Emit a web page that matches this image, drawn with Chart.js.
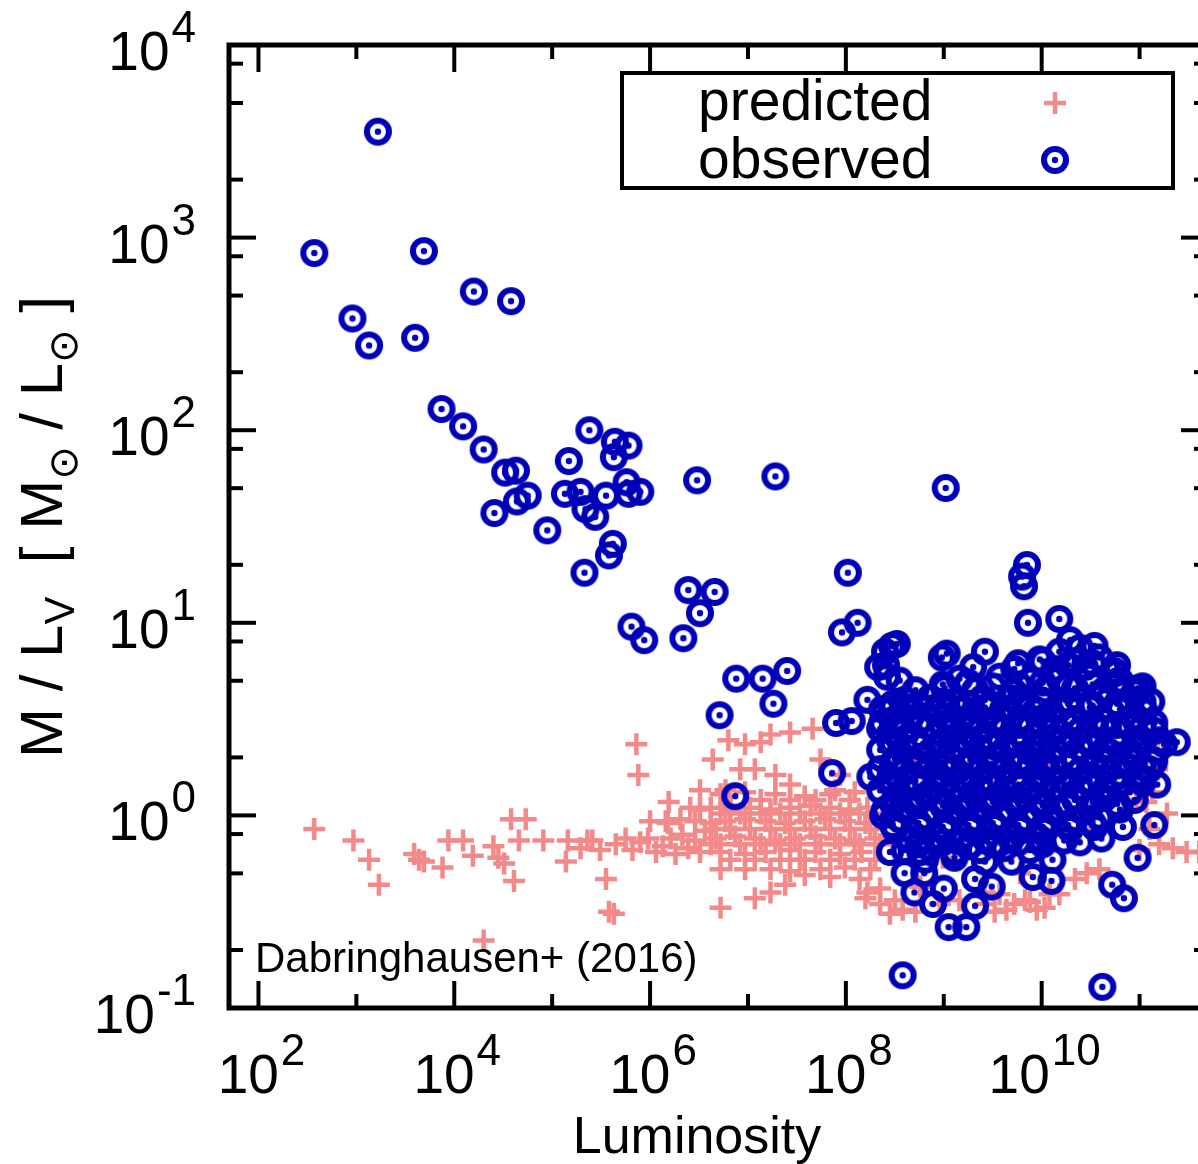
<!DOCTYPE html>
<html><head><meta charset="utf-8">
<script src="https://cdn.jsdelivr.net/npm/chart.js@4/dist/chart.umd.min.js"></script>
<style>
html,body{margin:0;padding:0;background:#fff;overflow:hidden;width:1198px;height:1164px}
canvas{display:block}
</style></head><body>
<canvas id="c" width="1240" height="1164"></canvas>
<script>
// ---- axis ranges & ticks ----
const X_MIN = 50, X_MAX = 5e11, Y_MIN = 0.1, Y_MAX = 1e4;
const xMajorTicks = [1e2, 1e4, 1e6, 1e8, 1e10];
const xTickExps   = ['2', '4', '6', '8', '10'];
const xMinorTicks = [1e3, 1e5, 1e7, 1e9, 1e11];
const yMajorTicks = [0.1, 1, 10, 100, 1000, 10000];
const yTickExps   = ['-1', '0', '1', '2', '3', '4'];
const yMinorTicks = [0.2, 0.5, 0.8, 2, 5, 8, 20, 50, 80, 200, 500, 800, 2000, 5000, 8000];
const seriesLabels = ['predicted', 'observed'];

// ---- data: [log10 Luminosity, log10 M/L] ----
const observedOutliers = [
 [3.22,3.55],[2.57,2.92],[3.69,2.93],[2.96,2.58],[3.13,2.44],[3.60,2.48],[4.20,2.72],[4.58,2.67],
 [3.87,2.11],[4.09,2.02],[4.30,1.90],[4.52,1.78],[4.63,1.79],[4.41,1.57],[4.64,1.63],[4.75,1.66],
 [4.95,1.48],[5.17,1.84],[5.13,1.67],[5.29,1.68],[5.38,2.00],[5.34,1.59],[5.44,1.55],[5.55,1.66],
 [5.64,1.94],[5.63,1.86],[5.78,1.92],[5.76,1.73],[5.78,1.67],[5.90,1.68],[5.62,1.41],[5.58,1.35],
 [5.33,1.26],[6.48,1.74],[7.28,1.76],[9.02,1.70],[5.81,0.98],[5.94,0.91],[6.39,1.17],[6.66,1.16],
 [6.51,1.05],[6.34,0.92],[6.71,0.52],[6.88,0.71],[7.15,0.71],[7.40,0.75],[7.26,0.58],[6.87,0.10],
 [8.02,1.26],[8.12,1.00],[7.96,0.95],[7.86,0.22],[7.90,0.48],[8.06,0.49],[8.58,-0.83],[10.62,-0.89],
 [9.05,-0.58],[9.23,-0.58]
];
const observedClusterEdge = [
 [8.47,0.88],[8.40,0.85],[8.52,0.89],[8.41,0.78],[8.98,0.82],[9.03,0.84],[9.30,0.77],[9.42,0.85],
 [9.85,1.30],[9.80,1.24],[9.82,1.19],[9.86,1.00],[10.18,1.02],[10.29,0.91],[10.39,0.87],[10.18,0.85],
 [10.54,0.88],[10.76,0.74],[10.98,0.66],[11.12,0.59],[11.38,0.38],[11.18,0.16],[11.15,-0.05],[10.98,-0.22],
 [10.72,-0.36],[10.84,-0.43],[8.22,0.60],[8.33,0.77],[8.42,0.72],[8.55,0.70],[8.47,0.55],[8.37,0.48],
 [8.25,0.20],[8.38,0.00],[8.45,-0.19],[8.76,-0.19],[8.89,-0.46],[9.32,-0.47],[9.32,-0.33],[9.49,-0.37],
 [9.69,-0.24],[9.91,-0.32],[10.10,-0.34],[10.11,-0.23],[10.39,-0.14],[10.61,-0.12],[10.83,-0.06],
 [8.80,-0.30],[8.70,-0.40],[9.00,-0.38],[8.60,-0.30]
];
const observedClusterCore = [
 [9.98,0.81],[10.34,0.80],[10.59,0.82],
 [9.16,0.71],[9.57,0.72],[9.88,0.70],[10.18,0.71],[10.49,0.72],[10.80,0.70],
 [8.60,0.60],[8.86,0.61],[9.11,0.59],[9.42,0.60],[9.67,0.61],[9.98,0.60],[10.29,0.59],[10.59,0.61],[10.90,0.60],
 [8.50,0.50],[8.76,0.49],[9.01,0.51],[9.27,0.50],[9.52,0.49],[9.78,0.50],[10.03,0.51],[10.34,0.50],[10.64,0.49],[10.95,0.50],[11.15,0.48],
 [8.45,0.39],[8.71,0.40],[8.96,0.38],[9.22,0.39],[9.47,0.40],[9.72,0.39],[9.98,0.38],[10.23,0.40],[10.49,0.39],[10.74,0.38],[11.00,0.40],[11.20,0.39],
 [8.50,0.29],[8.76,0.30],[9.01,0.28],[9.27,0.29],[9.52,0.30],[9.78,0.29],[10.03,0.28],[10.34,0.29],[10.64,0.30],[10.95,0.29],[11.15,0.28],
 [8.45,0.19],[8.71,0.18],[8.96,0.20],[9.22,0.19],[9.47,0.18],[9.72,0.19],[9.98,0.20],[10.23,0.19],[10.49,0.18],[10.74,0.19],[11.00,0.20],
 [8.50,0.08],[8.76,0.09],[9.01,0.07],[9.27,0.08],[9.52,0.09],[9.78,0.08],[10.03,0.07],[10.34,0.08],[10.64,0.09],[10.95,0.08],
 [8.55,-0.02],[8.81,-0.01],[9.06,-0.03],[9.32,-0.02],[9.57,-0.01],[9.83,-0.02],[10.08,-0.03],[10.34,-0.02],[10.59,-0.01],
 [8.65,-0.12],[8.91,-0.11],[9.16,-0.13],[9.42,-0.12],[9.67,-0.11],[9.98,-0.12],[10.23,-0.13],
 [8.81,-0.23],[9.11,-0.22],[9.42,-0.24]
];
const observedClusterFill = [
 [9.72,0.76],[10.13,0.76],[10.44,0.77],[10.74,0.75],
 [8.71,0.65],[9.01,0.66],[9.32,0.65],[9.72,0.64],[10.03,0.65],[10.34,0.66],[10.64,0.65],[10.95,0.64],
 [8.37,0.55],[8.65,0.56],[8.91,0.54],[9.16,0.55],[9.42,0.56],[9.67,0.55],[9.93,0.54],[10.18,0.55],[10.49,0.56],[10.80,0.55],[11.05,0.54],
 [8.35,0.45],[8.60,0.44],[8.86,0.46],[9.11,0.45],[9.37,0.44],[9.62,0.45],[9.88,0.46],[10.13,0.45],[10.39,0.44],[10.64,0.45],[10.90,0.46],[11.15,0.44],
 [8.35,0.34],[8.60,0.35],[8.86,0.33],[9.11,0.34],[9.37,0.35],[9.62,0.34],[9.88,0.33],[10.13,0.34],[10.39,0.35],[10.64,0.34],[10.90,0.33],[11.18,0.34],
 [8.35,0.24],[8.60,0.23],[8.86,0.25],[9.11,0.24],[9.37,0.23],[9.62,0.24],[9.88,0.25],[10.13,0.24],[10.39,0.23],[10.64,0.24],[10.90,0.25],[11.10,0.24],
 [8.35,0.13],[8.60,0.14],[8.86,0.12],[9.11,0.13],[9.37,0.14],[9.62,0.13],[9.88,0.12],[10.13,0.13],[10.39,0.14],[10.64,0.13],[10.90,0.12],
 [8.40,0.03],[8.65,0.04],[8.91,0.02],[9.16,0.03],[9.42,0.04],[9.67,0.03],[9.93,0.02],[10.18,0.03],[10.49,0.04],[10.80,0.03],
 [8.50,-0.07],[8.76,-0.06],[9.01,-0.08],[9.27,-0.07],[9.52,-0.06],[9.78,-0.07],[10.03,-0.08],[10.29,-0.07],[10.54,-0.06],
 [8.60,-0.18],[8.86,-0.17],[9.11,-0.19],[9.37,-0.18],[9.62,-0.17],[9.88,-0.18]
];
const observedClusterDense = [
 [9.76,0.79],[10.01,0.80],[10.27,0.78],[10.52,0.79],[10.77,0.78],
 [8.99,0.68],[9.25,0.69],[9.50,0.67],[9.76,0.68],[10.01,0.69],[10.27,0.67],[10.52,0.68],[10.77,0.69],[11.03,0.67],
 [8.48,0.58],[8.74,0.57],[8.99,0.59],[9.25,0.58],[9.50,0.57],[9.76,0.58],[10.01,0.59],[10.27,0.58],[10.52,0.57],[10.77,0.58],[11.03,0.59],
 [8.48,0.47],[8.74,0.48],[8.99,0.46],[9.25,0.47],[9.50,0.48],[9.76,0.47],[10.01,0.46],[10.27,0.47],[10.52,0.48],[10.77,0.47],[11.03,0.46],
 [8.48,0.37],[8.74,0.36],[8.99,0.38],[9.25,0.37],[9.50,0.36],[9.76,0.37],[10.01,0.38],[10.27,0.37],[10.52,0.36],[10.77,0.37],[11.03,0.38],[11.25,0.37],
 [8.48,0.26],[8.74,0.27],[8.99,0.25],[9.25,0.26],[9.50,0.27],[9.76,0.26],[10.01,0.25],[10.27,0.26],[10.52,0.27],[10.77,0.26],[11.03,0.25],
 [8.48,0.16],[8.74,0.15],[8.99,0.17],[9.25,0.16],[9.50,0.15],[9.76,0.16],[10.01,0.17],[10.27,0.16],[10.52,0.15],[10.77,0.16],[11.03,0.17],
 [8.48,0.06],[8.74,0.07],[8.99,0.05],[9.25,0.06],[9.50,0.07],[9.76,0.06],[10.01,0.05],[10.27,0.06],[10.52,0.07],[10.77,0.06],
 [8.48,-0.05],[8.74,-0.04],[8.99,-0.06],[9.25,-0.05],[9.50,-0.04],[9.76,-0.05],[10.01,-0.06],[10.27,-0.05],[10.52,-0.04],
 [8.74,-0.15],[8.99,-0.14],[9.25,-0.16],[9.50,-0.15],[9.76,-0.14],[10.01,-0.15]
];
const predictedSparse = [
 [2.57,-0.07],[2.97,-0.13],[3.13,-0.23],[3.23,-0.36],[3.59,-0.20],[3.64,-0.23],[3.69,-0.24],[3.88,-0.27],
 [3.94,-0.13],[4.09,-0.13],[4.19,-0.21],[4.40,-0.16],[4.45,-0.22],[4.51,-0.25],[4.58,-0.02],[4.73,-0.02],
 [4.66,-0.13],[4.61,-0.34],[4.30,-0.65],[4.91,-0.13],[5.14,-0.24],[5.16,-0.13],[5.36,-0.13],[5.55,-0.33],
 [5.58,-0.50],[5.63,-0.51],[5.86,0.37],[5.88,0.21],[6.72,-0.48]
];
const predictedBand = [
 [5.29,-0.17],[5.41,-0.13],[5.49,-0.18],[5.65,-0.15],[5.75,-0.12],[5.82,-0.18],[5.90,-0.14],[5.98,-0.12],
 [6.06,-0.19],[6.13,-0.16],[6.21,-0.12],[6.26,-0.20],[6.33,-0.10],[6.39,-0.17],[6.46,-0.13],[6.51,-0.19],
 [6.56,-0.08],[6.62,-0.15],
 [6.19,0.07],[6.18,-0.04],[6.51,0.13],[6.64,0.29],[6.80,0.39],[6.97,0.37],[7.13,0.38],[7.23,0.42],
 [7.43,0.43],[7.66,0.45],[6.77,0.13],[6.92,0.24],[7.07,0.24],[7.28,0.21],[7.43,0.16],[7.74,0.29],
 [7.94,0.21],[8.04,0.08],[7.69,0.08],[7.89,0.13],[7.13,0.08],[7.43,0.08],[6.82,0.03],[6.51,0.03],
 [7.07,-0.43],[7.23,-0.40],[7.38,-0.36],[7.58,-0.31],[7.84,-0.32],[8.14,-0.33],[8.20,-0.43],[8.35,-0.38],
 [6.97,-0.28],[7.23,-0.28],[7.53,-0.23],
 [6.72,0.01],[6.92,0.01],[7.13,0.01],[7.33,0.01],[7.53,0.01],[7.74,0.01],[7.94,0.01],[8.14,0.01],[8.30,0.01],
 [6.67,-0.07],[6.82,-0.07],[7.02,-0.07],[7.23,-0.07],[7.43,-0.07],[7.64,-0.07],[7.84,-0.07],[8.04,-0.07],[8.25,-0.07],
 [6.72,-0.15],[6.92,-0.15],[7.13,-0.15],[7.33,-0.15],[7.53,-0.15],[7.74,-0.15],[7.94,-0.15],[8.14,-0.15],[8.35,-0.15],
 [6.82,-0.23],[7.07,-0.23],[7.33,-0.23],[7.58,-0.23],[7.84,-0.23],[8.09,-0.23],[8.30,-0.23]
];
const predictedDense = [
 [6.41,0.04],[6.62,0.04],[6.82,0.05],[7.02,0.04],[7.23,0.03],[7.43,0.04],[7.64,0.05],[7.84,0.04],[8.04,0.03],[8.22,0.04],
 [6.00,-0.03],[6.16,-0.03],[6.31,-0.02],[6.46,-0.03],[6.62,-0.04],[6.77,-0.03],[6.97,-0.02],[7.18,-0.03],[7.38,-0.04],[7.58,-0.03],[7.79,-0.02],[7.99,-0.03],[8.20,-0.04],
 [6.67,-0.12],[6.87,-0.11],[7.07,-0.12],[7.28,-0.13],[7.48,-0.12],[7.69,-0.11],[7.89,-0.12],[8.09,-0.13],[8.30,-0.12],
 [6.72,-0.19],[6.97,-0.20],[7.18,-0.19],[7.43,-0.18],[7.69,-0.19],[7.94,-0.20],[8.16,-0.19],
 [6.72,0.11],[6.97,0.12],[7.28,0.11],[7.58,0.10],[7.84,0.11],[8.09,0.12],
 [6.72,-0.28],[7.43,-0.29],[7.74,-0.28],[7.99,-0.27],[8.25,-0.28]
];
const predictedNearCluster = [
 [8.22,-0.40],[8.58,-0.49],[8.76,-0.37],[9.64,-0.49],[9.95,-0.49],[9.78,-0.30],[10.46,-0.30],[10.97,0.08],
 [11.07,0.07],[11.13,0.12],[11.34,-0.17],[11.48,-0.19],[11.61,-0.19],[11.18,0.24],[11.10,0.37],[9.83,-0.44],
 [10.08,-0.41],[9.57,-0.41],[9.72,-0.46],[8.99,-0.22],[8.45,-0.51],[9.16,-0.44],[9.42,-0.40],
 [9.06,0.08],[9.57,0.19],[10.08,0.29],[10.59,0.08],[10.39,-0.07],[8.76,0.29],
 [8.35,-0.46],[8.50,-0.44],[8.71,-0.50],[8.96,-0.46],[9.42,-0.46],[9.52,-0.50],[9.88,-0.45],[10.03,-0.48],
 [10.18,-0.41],[10.34,-0.33],[10.59,-0.28],[11.00,-0.18],[11.20,-0.15],[11.10,-0.07],[11.28,0.01]
];

// ---- styles ----
const PINK = '#f38a8a';
const BLUE = '#0000b8';
const FONT = '"Liberation Sans", Arial, sans-serif';

function toPoints(...lists){
  const out = [];
  lists.forEach(l => l.forEach(p => out.push({x: Math.pow(10, p[0]), y: Math.pow(10, p[1])})));
  return out;
}

function makeSun(){
  const s = 36, c = document.createElement('canvas');
  c.width = s; c.height = s;
  const g = c.getContext('2d');
  g.strokeStyle = BLUE; g.lineWidth = 6;
  g.beginPath(); g.arc(s/2, s/2, 11, 0, Math.PI*2); g.stroke();
  g.fillStyle = BLUE;
  g.beginPath(); g.arc(s/2, s/2, 3.2, 0, Math.PI*2); g.fill();
  return c;
}
const sunImg = makeSun();

function drawPow(ctx, exp, x, baseline, align){
  ctx.font = '55px ' + FONT;
  const w1 = ctx.measureText('10').width;
  ctx.font = '44px ' + FONT;
  const w2 = ctx.measureText(exp).width;
  const total = w1 + w2 + 2;
  let x0 = align === 'right' ? x - total : x - total/2;
  ctx.textAlign = 'left'; ctx.textBaseline = 'alphabetic';
  ctx.font = '55px ' + FONT;
  ctx.fillText('10', x0, baseline);
  ctx.font = '44px ' + FONT;
  ctx.fillText(exp, x0 + w1 + 2, baseline - 28);
}

const decor = {
  id: 'decor',
  afterDatasetsDraw(chart){
    const {ctx, chartArea: a, scales} = chart;
    const xs = scales.x, ys = scales.y;
    ctx.save();
    ctx.strokeStyle = '#000'; ctx.fillStyle = '#000';
    ctx.lineWidth = 4; ctx.lineCap = 'butt';
    const seg = (x1,y1,x2,y2) => { ctx.beginPath(); ctx.moveTo(x1,y1); ctx.lineTo(x2,y2); ctx.stroke(); };
    xMajorTicks.forEach(v => { const p = xs.getPixelForValue(v); seg(p,a.bottom,p,a.bottom-27); seg(p,a.top,p,a.top+27); });
    xMinorTicks.forEach(v => { const p = xs.getPixelForValue(v); seg(p,a.bottom,p,a.bottom-14); seg(p,a.top,p,a.top+14); });
    yMajorTicks.forEach(v => { const p = ys.getPixelForValue(v); seg(a.left,p,a.left+27,p); seg(a.right,p,a.right-27,p); });
    yMinorTicks.forEach(v => { const p = ys.getPixelForValue(v); seg(a.left,p,a.left+14,p); seg(a.right,p,a.right-14,p); });
    ctx.lineWidth = 5;
    ctx.strokeRect(a.left, a.top, a.right - a.left, a.bottom - a.top);

    // tick labels
    xMajorTicks.forEach((v,i) => drawPow(ctx, xTickExps[i], xs.getPixelForValue(v) + 3, 1093, 'center'));
    yMajorTicks.forEach((v,i) => drawPow(ctx, yTickExps[i], 196, ys.getPixelForValue(v) + 25, 'right'));

    // x title
    ctx.font = '52px ' + FONT; ctx.textAlign = 'center';
    ctx.fillText('Luminosity', 697, 1153);

    // y title (rotated)
    ctx.save();
    ctx.translate(62, 527);
    ctx.rotate(-Math.PI/2);
    const parts = [
      ['M / L', '60px ' + FONT, 0],
      ['V', '42px ' + FONT, 12],
      ['  [ M', '60px ' + FONT, 0],
      ['\u2299', '40px "DejaVu Sans"', 15],
      [' / L', '60px ' + FONT, 0],
      ['\u2299', '40px "DejaVu Sans"', 15],
      [' ]', '60px ' + FONT, 0]
    ];
    let tot = 0;
    parts.forEach(p => { ctx.font = p[1]; p.push(ctx.measureText(p[0]).width); tot += p[3]; });
    let cx = -tot/2;
    ctx.textAlign = 'left';
    parts.forEach(p => { ctx.font = p[1]; ctx.fillText(p[0], cx, p[2]); cx += p[3]; });
    ctx.restore();

    // credit
    ctx.font = '42px ' + FONT; ctx.textAlign = 'left';
    ctx.fillText('Dabringhausen+ (2016)', 255, 972);

    // legend
    ctx.lineWidth = 4;
    ctx.strokeRect(622, 73, 551, 115);
    ctx.font = '57px ' + FONT;
    ctx.fillText(seriesLabels[0], 698, 120);
    ctx.fillText(seriesLabels[1], 698, 178);
    ctx.strokeStyle = PINK; ctx.lineWidth = 4.5;
    seg(1044, 103, 1066, 103); seg(1055, 92, 1055, 114);
    ctx.drawImage(sunImg, 1055 - 18, 160 - 18);
    ctx.restore();
  }
};

new Chart(document.getElementById('c'), {
  type: 'scatter',
  data: {
    datasets: [
      {
        label: seriesLabels[0],
        data: toPoints(predictedSparse, predictedBand, predictedDense, predictedNearCluster),
        pointStyle: 'cross', pointRadius: 11, borderWidth: 4.5,
        borderColor: PINK, backgroundColor: PINK, order: 2, clip: false
      },
      {
        label: seriesLabels[1],
        data: toPoints(observedOutliers, observedClusterEdge, observedClusterCore, observedClusterFill, observedClusterDense),
        pointStyle: sunImg, pointRadius: 14,
        borderColor: BLUE, backgroundColor: BLUE, order: 1, clip: false
      }
    ]
  },
  options: {
    responsive: false, animation: false, events: [],
    layout: { padding: { left: 229, top: 45, right: 1240 - 1208, bottom: 1164 - 1008 } },
    plugins: { legend: { display: false }, tooltip: { enabled: false } },
    scales: {
      x: { type: 'logarithmic', min: X_MIN, max: X_MAX, display: false },
      y: { type: 'logarithmic', min: Y_MIN, max: Y_MAX, display: false }
    }
  },
  plugins: [decor]
});
</script>
</body></html>
